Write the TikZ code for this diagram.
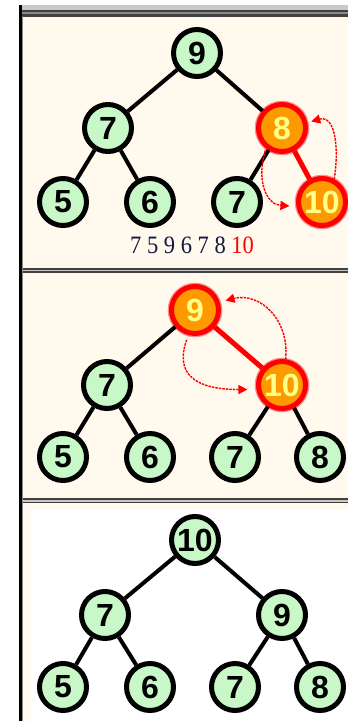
\documentclass[tikz,border=0pt]{standalone}
\usepackage{fontspec}
\usetikzlibrary{arrows.meta}
\newfontfamily\nodefont{Liberation Sans}
\newfontfamily\seqfont{Liberation Serif}
\definecolor{cream}{HTML}{FFF9EE}
\definecolor{mint}{HTML}{C8F8C8}
\definecolor{hotfill}{HTML}{FF9900}
\definecolor{paleyel}{HTML}{FFFF88}
\definecolor{framedark}{HTML}{404040}
\definecolor{framemid}{HTML}{8A8A8A}
\definecolor{framelight}{HTML}{C8C8C8}
\definecolor{seqcol}{HTML}{151840}
\tikzset{
  hnode/.style={circle, draw=black, line width=5pt, fill=mint, minimum size=47pt,
    inner sep=0pt, text=black, font={\nodefont\bfseries\fontsize{32}{32}\selectfont}},
  hot/.style={hnode, draw=red, fill=hotfill, text=paleyel,
    preaction={draw=red!45, line width=7.5pt}},
  treeedge/.style={line width=4pt, black},
  hotedge/.style={line width=5pt, red},
  swaparrow/.style={red, line width=1.4pt, dash pattern=on 2.5pt off 1pt,
    -{Triangle[length=9pt,width=9pt]}},
}
\begin{document}
\begin{tikzpicture}[x=1pt,y=-1pt]
\useasboundingbox (0,0) rectangle (348,721);
% backgrounds and frames
\fill[white] (0,0) rectangle (348,721);
\fill[cream] (22,16) rectangle (348,268);
\fill[cream] (22,273) rectangle (348,498);
\fill[cream] (22,503) rectangle (348,721);
\fill[white] (30,510) rectangle (348,721);
\fill[framelight] (22,5) rectangle (348,10);
\fill[framedark] (22,10) rectangle (348,12.3);
\fill[framemid] (22,12.3) rectangle (348,14);
\fill[framedark] (22,14) rectangle (348,16.5);
\fill[framedark] (22,267.5) rectangle (348,269.7);
\fill[framelight] (22,269.7) rectangle (348,271);
\fill[framedark] (22,271) rectangle (348,273);
\fill[framedark] (22,498.3) rectangle (348,500.3);
\fill[framelight] (22,500.3) rectangle (348,501.7);
\fill[framedark] (22,501.7) rectangle (348,503.3);
\fill[black] (19,5) rectangle (22,721);
\fill[framemid] (22,16) rectangle (23.3,721);

% ---------- panel 1 ----------
\node[hnode] (p1a) at (197,53) {9};
\node[hnode] (p1b) at (108,128) {7};
\node[hot]   (p1c) at (282,128) {8};
\node[hnode] (p1d) at (63,202) {5};
\node[hnode] (p1e) at (150,202) {6};
\node[hnode] (p1f) at (237,202) {7};
\node[hot]   (p1g) at (322,202) {10};
\draw[treeedge] (p1a) -- (p1b);
\draw[treeedge] (p1a) -- (p1c);
\draw[treeedge] (p1b) -- (p1d);
\draw[treeedge] (p1b) -- (p1e);
\draw[treeedge] (p1c) -- (p1f);
\draw[hotedge] (p1c) -- (p1g);
\draw[swaparrow, shorten >=4pt] (p1g.62) .. controls +(5,-30) and +(28,-8) .. (p1c.12);
\draw[swaparrow, shorten <=2pt, shorten >=7pt] (p1c.232) .. controls +(-10,32) and +(-30,-2) .. (p1g.190);
\node[font={\seqfont\fontsize{25}{25}\selectfont}, xscale=0.9, text=seqcol, inner sep=0pt]
  (seq) at (192,245.5) {7 5 9 6 7 8 \textcolor{red}{10}};

% ---------- panel 2 ----------
\node[hot]   (p2a) at (195,310) {9};
\node[hnode] (p2b) at (107,385) {7};
\node[hot]   (p2c) at (282,385) {10};
\node[hnode] (p2d) at (63,457) {5};
\node[hnode] (p2e) at (150,457) {6};
\node[hnode] (p2f) at (235,457) {7};
\node[hnode] (p2g) at (320,457) {8};
\draw[treeedge] (p2a) -- (p2b);
\draw[hotedge] (p2a) -- (p2c);
\draw[treeedge] (p2b) -- (p2d);
\draw[treeedge] (p2b) -- (p2e);
\draw[treeedge] (p2c) -- (p2f);
\draw[treeedge] (p2c) -- (p2g);
\draw[swaparrow, shorten >=6pt] (p2c.82) .. controls +(4,-40) and +(40,-10) .. (p2a.18);
\draw[swaparrow, shorten <=5pt, shorten >=9pt] (p2a.255) .. controls +(-14,40) and +(-60,0) .. (p2c.190);

% ---------- panel 3 ----------
\node[hnode] (p3a) at (195,540) {10};
\node[hnode] (p3b) at (105,615) {7};
\node[hnode] (p3c) at (282,615) {9};
\node[hnode] (p3d) at (63,687) {5};
\node[hnode] (p3e) at (150,687) {6};
\node[hnode] (p3f) at (235,687) {7};
\node[hnode] (p3g) at (320,687) {8};
\draw[treeedge] (p3a) -- (p3b);
\draw[treeedge] (p3a) -- (p3c);
\draw[treeedge] (p3b) -- (p3d);
\draw[treeedge] (p3b) -- (p3e);
\draw[treeedge] (p3c) -- (p3f);
\draw[treeedge] (p3c) -- (p3g);
\end{tikzpicture}
\end{document}
